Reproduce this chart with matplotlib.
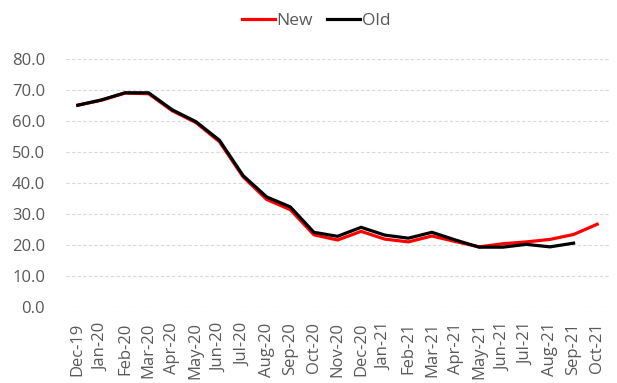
import matplotlib
matplotlib.use("Agg")
import matplotlib.pyplot as plt

months = ["Dec-19", "Jan-20", "Feb-20", "Mar-20", "Apr-20", "May-20", "Jun-20", "Jul-20",
          "Aug-20", "Sep-20", "Oct-20", "Nov-20", "Dec-20", "Jan-21", "Feb-21", "Mar-21",
          "Apr-21", "May-21", "Jun-21", "Jul-21", "Aug-21", "Sep-21", "Oct-21"]
new_vals = [65.1, 66.7, 69.0, 68.8, 63.3, 59.5, 53.3, 42.0, 34.7, 31.4, 23.3, 21.6, 24.4,
            21.9, 21.0, 22.9, 21.1, 19.4, 20.4, 21.0, 21.8, 23.4, 26.7]
old_vals = [65.1, 66.8, 69.1, 69.1, 63.6, 59.8, 53.8, 42.4, 35.5, 32.3, 24.1, 22.8, 25.7,
            23.2, 22.2, 24.1, 21.6, 19.3, 19.3, 20.2, 19.4, 20.6]
yticks = [0, 10, 20, 30, 40, 50, 60, 70, 80]

plt.rcParams['font.family'] = ['Open Sans', 'DejaVu Sans']
txt = '#595959'

fig = plt.figure(figsize=(6.17, 3.83), dpi=100)
ax = fig.add_axes([66/617, 1-307/383, (609-66)/617, (307-59)/383])

x_new = list(range(len(new_vals)))
x_old = list(range(len(old_vals)))
ax.plot(x_new, new_vals, color='#FF0000', lw=2.3, label='New', solid_joinstyle='round')
ax.plot(x_old, old_vals, color='#000000', lw=2.3, label='Old', solid_joinstyle='round')

ax.set_xlim(-0.5, len(months) - 0.5)
ax.set_ylim(0, 80)
ax.set_yticks(yticks)
ax.set_yticklabels([f"{v:.1f}" for v in yticks])
ax.set_xticks(range(len(months)))
ax.set_xticklabels(months, rotation=90)
ax.tick_params(axis='both', length=0, colors=txt, labelsize=12)
ax.tick_params(axis='y', pad=15)
ax.tick_params(axis='x', pad=11)
for s in ax.spines.values():
    s.set_visible(False)
ax.grid(axis='y', color='#D9D9D9', linestyle=(0, (3, 2)), linewidth=0.8)
ax.set_axisbelow(True)

leg = fig.legend(loc='center', bbox_to_anchor=(316/617, 1-21/383), ncol=2, frameon=False,
                 fontsize=12.5, handlelength=1.9, handletextpad=0.1, columnspacing=0.8,
                 borderpad=0)
for t in leg.get_texts():
    t.set_color(txt)

fig.savefig('out.png', dpi=100)
